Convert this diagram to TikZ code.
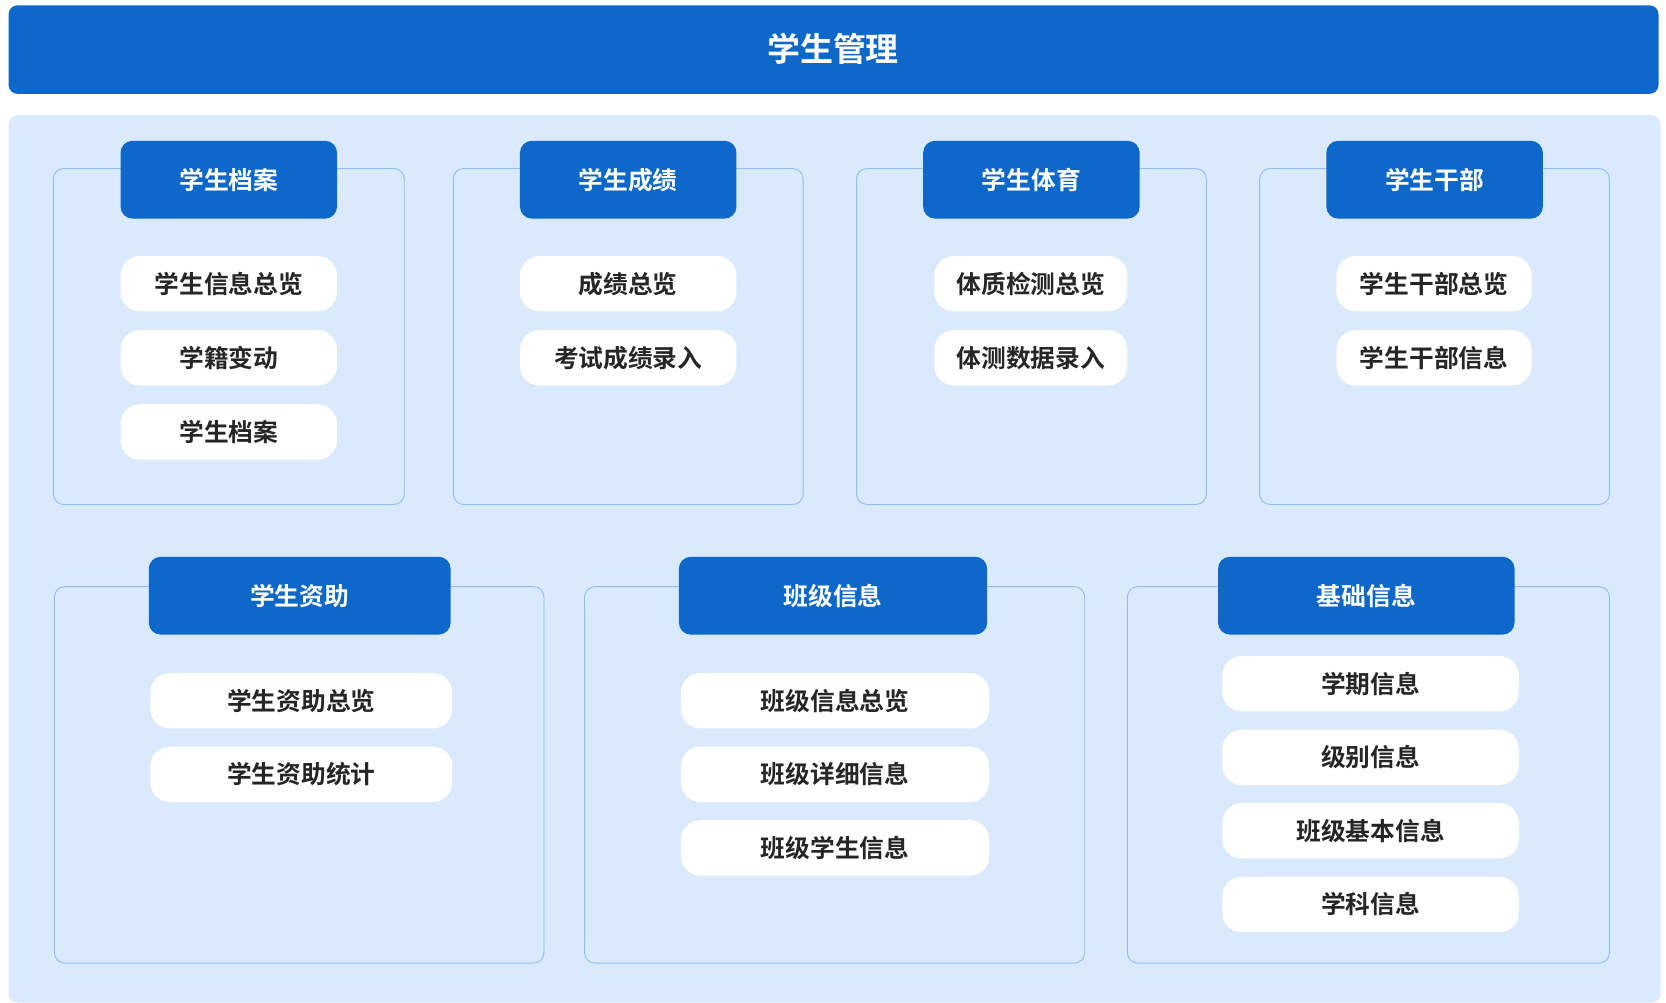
\documentclass[tikz,border=0pt]{standalone}
\usepackage{fontspec}
\newfontfamily\cjk{Noto Sans CJK SC}[BoldFont={Noto Sans CJK SC Bold}]
\definecolor{mainblue}{HTML}{0D68C9}
\definecolor{panelbg}{HTML}{DAE9FB}
\definecolor{boxline}{HTML}{8DBDF2}
\tikzset{
  header/.style={fill=mainblue, rounded corners=12pt, inner sep=0pt},
  panel/.style={fill=panelbg, rounded corners=12pt},
  group/.style={draw=boxline, line width=1.2pt, rounded corners=14pt},
  tab/.style={fill=mainblue, rounded corners=16pt, text=white, font=\cjk\bfseries\fontsize{33}{36}\selectfont,
    minimum width=#1*0.5mm, minimum height=36.5mm, inner sep=0pt},
  item/.style={fill=white, rounded corners=26pt, text=black!85, font=\cjk\bfseries\fontsize{33}{36}\selectfont,
    minimum width=#1*0.5mm, minimum height=26mm, inner sep=0pt},
}
\begin{document}
\begin{tikzpicture}[x=0.5mm, y=-0.5mm]
\useasboundingbox (0,0) rectangle (1562,940);
% header
\fill[header] (8,5) rectangle (1555,88);
\node[text=white, font=\cjk\bfseries\fontsize{44}{48}\selectfont] (title) at (781,46) {学生管理};
\fill[panel] (8,108) rectangle (1557,940);
% top row
\draw[group] (50,158) rectangle (379,473);
\draw[group] (425,158) rectangle (753,473);
\draw[group] (803,158) rectangle (1131,473);
\draw[group] (1181,158) rectangle (1509,473);
\node[tab=203] (dangan) at (214.5,168.5) {学生档案};
\node[tab=203] (chengji) at (589,168.5) {学生成绩};
\node[tab=203] (tiyu) at (967,168.5) {学生体育};
\node[tab=203] (ganbu) at (1345,168.5) {学生干部};
\foreach \t [count=\i] in {学生信息总览,学籍变动,学生档案}
  \node[item=203] (dangan-\i) at (214.5,{266+69.5*(\i-1)}) {\t};
\foreach \t [count=\i] in {成绩总览,考试成绩录入}
  \node[item=203] (chengji-\i) at (589,{266+69.5*(\i-1)}) {\t};
\foreach \t [count=\i] in {体质检测总览,体测数据录入}
  \node[item=181] (tiyu-\i) at (966.5,{266+69.5*(\i-1)}) {\t};
\foreach \t [count=\i] in {学生干部总览,学生干部信息}
  \node[item=183] (ganbu-\i) at (1344.5,{266+69.5*(\i-1)}) {\t};
% bottom row
\draw[group] (51,550) rectangle (510,903);
\draw[group] (548,550) rectangle (1017,903);
\draw[group] (1057,550) rectangle (1509,903);
\node[tab=283] (zizhu) at (281,558.5) {学生资助};
\node[tab=289] (banji) at (781,558.5) {班级信息};
\node[tab=278] (jichu) at (1281,558.5) {基础信息};
\foreach \t [count=\i] in {学生资助总览,学生资助统计}
  \node[item=283] (zizhu-\i) at (282.5,{657+69*(\i-1)}) {\t};
\foreach \t [count=\i] in {班级信息总览,班级详细信息,班级学生信息}
  \node[item=289] (banji-\i) at (783,{657+69*(\i-1)}) {\t};
\foreach \t [count=\i] in {学期信息,级别信息,班级基本信息,学科信息}
  \node[item=278] (jichu-\i) at (1285,{641+69*(\i-1)}) {\t};
\end{tikzpicture}
\end{document}
